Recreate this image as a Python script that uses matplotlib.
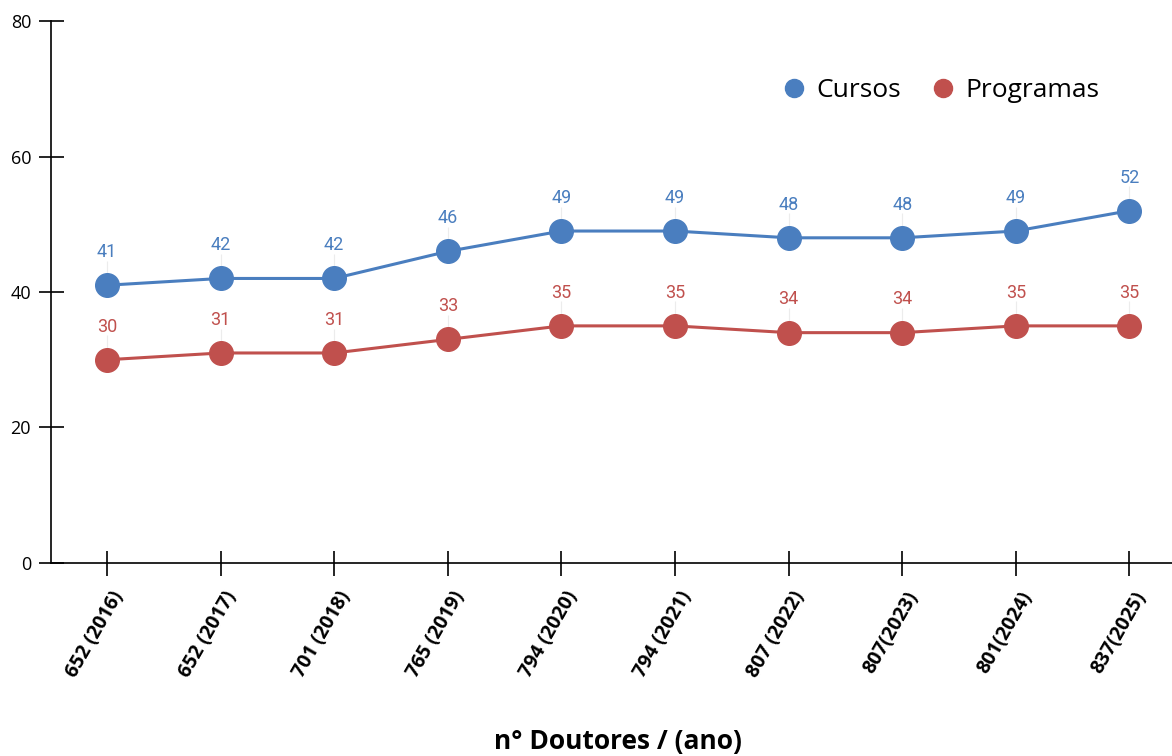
import numpy as np
import matplotlib
matplotlib.use('Agg')
import matplotlib.pyplot as plt
import matplotlib.transforms as mtransforms
from matplotlib.lines import Line2D

plt.rcParams['font.family'] = ['Open Sans', 'DejaVu Sans']

# dados
rotulos = ['652 (2016)', '652 (2017)', '701 (2018)', '765 (2019)', '794 (2020)',
           '794 (2021)', '807 (2022)', '807(2023)', '801(2024)', '837(2025)']
cursos = [41, 42, 42, 46, 49, 49, 48, 48, 49, 52]
programas = [30, 31, 31, 33, 35, 35, 34, 34, 35, 35]

azul = '#4a7ebf'
vermelho = '#c0504d'

fig = plt.figure(figsize=(11.72, 7.56), dpi=100)
ax = fig.add_axes([0.0431, 0.2553, 0.9569, 0.7169])

x = np.arange(len(rotulos))
for serie, cor in [(cursos, azul), (programas, vermelho)]:
    ax.vlines(x, serie, np.array(serie) + 3.6, color='#ececec', lw=0.8, zorder=1)
    ax.plot(x, serie, color=cor, lw=2.2, marker='o', markersize=17, zorder=3)
    for xi, v in zip(x, serie):
        ax.text(xi, v + 4.9, str(v), color=cor, fontsize=13, ha='center', va='center',
                family=['Roboto', 'DejaVu Sans'], zorder=4)

ax.set_xlim(-0.497, 9.375)
ax.set_ylim(0, 80)
ax.set_yticks([0, 20, 40, 60, 80])
ax.set_xticks(x)
ax.tick_params(axis='both', direction='inout', length=18, width=1.2, colors='black')
ax.tick_params(axis='y', labelsize=13, pad=5)
ax.tick_params(axis='x', pad=4)
ax.set_xticklabels(rotulos, rotation=60, ha='right', va='center', rotation_mode='anchor',
                   fontsize=14, fontweight='bold')
# desloca os rótulos do eixo x para baixo/direita, como no original
desloc = mtransforms.ScaledTranslation(0.12, -0.12, fig.dpi_scale_trans)
for lbl in ax.get_xticklabels():
    lbl.set_transform(lbl.get_transform() + desloc)
for s in ['top', 'right']:
    ax.spines[s].set_visible(False)
for s in ['left', 'bottom']:
    ax.spines[s].set_linewidth(1.2)

fig.text(0.527, 0.019, 'n° Doutores / (ano)', fontsize=19, fontweight='bold', ha='center', va='center')

handles = [Line2D([], [], ls='', marker='o', markersize=13, color=azul),
           Line2D([], [], ls='', marker='o', markersize=13, color=vermelho)]
ax.legend(handles, ['Cursos', 'Programas'], ncol=2, frameon=False, fontsize=19,
          loc='center', bbox_to_anchor=(0.793, 0.872), handletextpad=0.35,
          handlelength=1.0, columnspacing=1.1)

fig.savefig('out.png', dpi=100)
